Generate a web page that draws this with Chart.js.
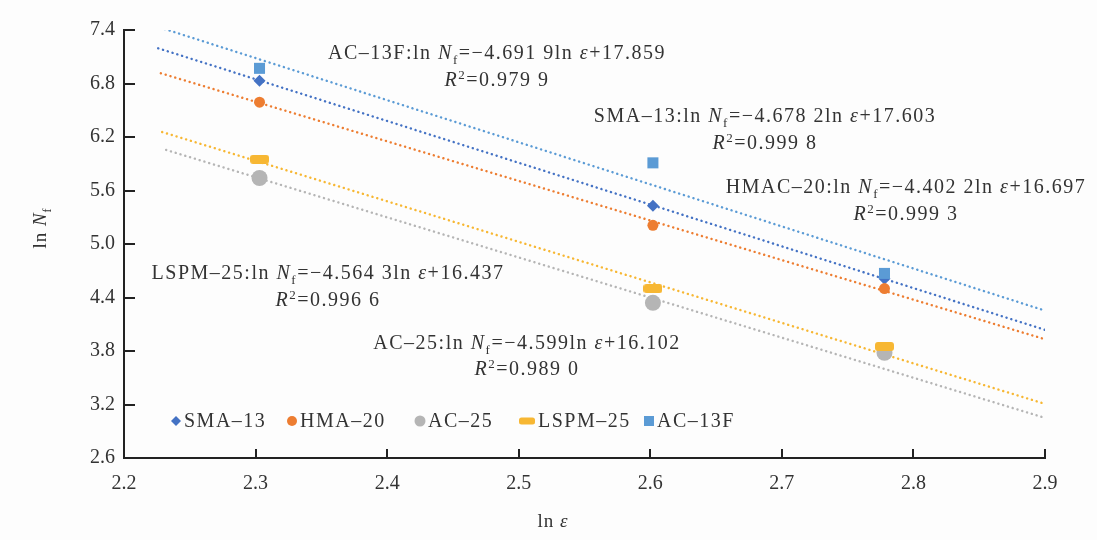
<!DOCTYPE html>
<html>
<head>
<meta charset="utf-8">
<script src="https://cdn.jsdelivr.net/npm/chart.js@4/dist/chart.umd.min.js"></script>
<style>
  html, body { margin: 0; padding: 0; background: #fdfdfd; }
  #wrap { width: 1097px; height: 540px; position: relative; }
</style>
</head>
<body>
<div id="wrap"><canvas id="fatigueChart" width="1097" height="540"></canvas></div>
<script>
// data
const xTickValues = [2.2, 2.3, 2.4, 2.5, 2.6, 2.7, 2.8, 2.9];
const yTickValues = [2.6, 3.2, 3.8, 4.4, 5.0, 5.6, 6.2, 6.8, 7.4];

const lnEps = [2.303, 2.602, 2.778];
const sma13 = [6.83, 5.43, 4.61];
const hma20 = [6.59, 5.21, 4.50];
const ac25 = [5.74, 4.34, 3.78];
const lspm25 = [5.95, 4.50, 3.85];
const ac13f = [6.97, 5.91, 4.67];

// trend line ends (x, y) as drawn
const sma13TrendX = [2.226, 2.9];
const sma13TrendY = [7.195, 4.037];
const hma20TrendX = [2.228, 2.9];
const hma20TrendY = [6.915, 3.932];
const ac25TrendX = [2.232, 2.9];
const ac25TrendY = [6.055, 3.050];
const lspm25TrendX = [2.229, 2.9];
const lspm25TrendY = [6.256, 3.207];
const ac13fTrendX = [2.231, 2.9];
const ac13fTrendY = [7.411, 4.253];

const seriesNames = ["SMA–13", "HMA–20", "AC–25", "LSPM–25", "AC–13F"];
const eqNames = ["AC–13F", "SMA–13", "HMAC–20", "LSPM–25", "AC–25"];
const eqSlopes = ["−4.691 9", "−4.678 2", "−4.402 2", "−4.564 3", "−4.599"];
const eqIntercepts = ["17.859", "17.603", "16.697", "16.437", "16.102"];
const eqR2 = ["0.979 9", "0.999 8", "0.999 3", "0.996 6", "0.989 0"];

const colors = {
    sma: "#4472C4",
    hma: "#ED7D31",
    ac25: "#B5B5B5",
    lspm: "#F7B733",
    ac13f: "#5B9BD5"
};

const SERIF = "'Times New Roman', 'Liberation Serif', Times, 'DejaVu Serif', serif";
const TEXT = "#333333";

function pts(xs, ys) {
    return xs.map((x, i) => ({ x: x, y: ys[i] }));
}

// rounded bar marker for LSPM-25
function pillMarker(w, h, color) {
    const c = document.createElement("canvas");
    c.width = w; c.height = h;
    const g = c.getContext("2d");
    g.fillStyle = color;
    g.beginPath();
    g.roundRect(0, 0, w, h, 3);
    g.fill();
    return c;
}
const pill = pillMarker(19, 9, colors.lspm);

function markerSet(label, data, color, style, radius) {
    return {
        label: label,
        data: pts(lnEps, data),
        pointStyle: style,
        pointRadius: radius,
        pointHoverRadius: radius,
        backgroundColor: color,
        borderColor: color,
        borderWidth: 0,
        showLine: false
    };
}

function trendSet(xs, ys, color) {
    return {
        label: "trend",
        data: pts(xs, ys),
        showLine: true,
        borderColor: color,
        borderWidth: 2.4,
        borderDash: [0.1, 4.9],
        borderCapStyle: "round",
        pointRadius: 0,
        fill: false
    };
}

// draws a run of text pieces, centred at cx
function drawRich(ctx, parts, cx, y, size) {
    size = size || 20;
    const big = size + "px " + SERIF;
    const small = Math.round(size * 0.65) + "px " + SERIF;
    let total = 0;
    parts.forEach(p => {
        ctx.font = (p.it ? "italic " : "") + (p.sub || p.sup ? small : big);
        p.w = ctx.measureText(p.t).width;
        total += p.w;
    });
    let x = cx - total / 2;
    parts.forEach(p => {
        ctx.font = (p.it ? "italic " : "") + (p.sub || p.sup ? small : big);
        let dy = 0;
        if (p.sub) dy = 5;
        if (p.sup) dy = -7;
        ctx.fillText(p.t, x, y + dy);
        x += p.w;
    });
}

function eqParts(i) {
    return [
        { t: eqNames[i] + ":ln " },
        { t: "N", it: true },
        { t: "f", sub: true },
        { t: "=" + eqSlopes[i] + "ln " },
        { t: "ε", it: true },
        { t: "+" + eqIntercepts[i] }
    ];
}
function r2Parts(i) {
    return [
        { t: "R", it: true },
        { t: "2", sup: true },
        { t: "=" + eqR2[i] }
    ];
}

const eqPos = [[497, 59, 86], [765, 122, 149], [906, 193, 220], [328, 279, 306], [527, 349, 375]];

const legendMarks = [
    { x: 176, kind: "diamond", color: colors.sma },
    { x: 292, kind: "circle", color: colors.hma, r: 5 },
    { x: 420, kind: "circle", color: colors.ac25, r: 5.5 },
    { x: 527, kind: "pill", color: colors.lspm },
    { x: 649, kind: "square", color: colors.ac13f }
];

// short tick marks pointing into the plot
const innerTicks = {
    id: "innerTicks",
    afterDatasetsDraw(chart) {
        const c = chart.ctx;
        const xs = chart.scales.x, ys = chart.scales.y;
        const area = chart.chartArea;
        c.save();
        c.fillStyle = "#222222";
        xTickValues.forEach(v => {
            const px = Math.round(xs.getPixelForValue(v));
            c.fillRect(px - 1, area.bottom - 9, 2, 9);
        });
        yTickValues.forEach(v => {
            const py = Math.round(ys.getPixelForValue(v));
            c.fillRect(area.left, py - 1, 11, 2);
        });
        c.restore();
    }
};

const overlay = {
    id: "overlay",
    afterDraw(chart) {
        const c = chart.ctx;
        c.save();

        // equations
        c.fillStyle = TEXT;
        c.textBaseline = "alphabetic";
        c.letterSpacing = "1.5px";
        eqPos.forEach((p, i) => {
            drawRich(c, eqParts(i), p[0], p[1]);
            drawRich(c, r2Parts(i), p[0], p[2]);
        });

        // legend
        const ly = 421;
        legendMarks.forEach((m, i) => {
            c.fillStyle = m.color;
            c.beginPath();
            if (m.kind === "diamond") {
                c.moveTo(m.x, ly - 5); c.lineTo(m.x + 5, ly);
                c.lineTo(m.x, ly + 5); c.lineTo(m.x - 5, ly);
                c.closePath();
            } else if (m.kind === "circle") {
                c.arc(m.x, ly, m.r, 0, Math.PI * 2);
            } else if (m.kind === "pill") {
                c.roundRect(m.x - 8, ly - 3.5, 16, 7, 2.5);
            } else {
                c.rect(m.x - 5, ly - 5, 10, 10);
            }
            c.fill();
            c.fillStyle = TEXT;
            c.font = "20px " + SERIF;
            c.textBaseline = "middle";
            c.fillText(seriesNames[i], m.x + (m.kind === "pill" ? 11 : 8), ly + 1);
        });

        // axis titles
        c.textBaseline = "alphabetic";
        c.letterSpacing = "1px";
        drawRich(c, [{ t: "ln " }, { t: "ε", it: true }], 553, 527, 19);
        c.translate(46, 228);
        c.rotate(-Math.PI / 2);
        drawRich(c, [{ t: "ln " }, { t: "N", it: true }, { t: "f", sub: true }], 0, 0, 19);
        c.restore();
    }
};

const chartCtx = document.getElementById("fatigueChart").getContext("2d");
new Chart(chartCtx, {
    type: "scatter",
    data: {
        datasets: [
            markerSet("LSPM-25", lspm25, colors.lspm, pill, 9),
            markerSet("AC-13F", ac13f, colors.ac13f, "rect", 7.8),
            markerSet("HMA-20", hma20, colors.hma, "circle", 5.5),
            markerSet("SMA-13", sma13, colors.sma, "rectRot", 6),
            markerSet("AC-25", ac25, colors.ac25, "circle", 8),
            trendSet(ac13fTrendX, ac13fTrendY, colors.ac13f),
            trendSet(sma13TrendX, sma13TrendY, colors.sma),
            trendSet(hma20TrendX, hma20TrendY, colors.hma),
            trendSet(lspm25TrendX, lspm25TrendY, colors.lspm),
            trendSet(ac25TrendX, ac25TrendY, colors.ac25)
        ]
    },
    options: {
        responsive: false,
        animation: false,
        layout: { padding: { left: 0, right: 52, top: 30, bottom: 0 } },
        plugins: {
            legend: { display: false },
            tooltip: { enabled: false }
        },
        scales: {
            x: {
                type: "linear",
                min: 2.2,
                max: 2.9,
                afterBuildTicks: s => { s.ticks = xTickValues.map(v => ({ value: v })); },
                afterFit: s => { s.height = 82; },
                grid: { display: false, drawTicks: false },
                border: { display: true, color: "#222222", width: 2 },
                ticks: {
                    padding: 14,
                    color: TEXT,
                    font: { family: SERIF, size: 20 },
                    callback: v => v.toFixed(1)
                }
            },
            y: {
                type: "linear",
                min: 2.6,
                max: 7.4,
                afterBuildTicks: s => { s.ticks = yTickValues.map(v => ({ value: v })); },
                afterFit: s => { s.width = 124; },
                grid: { display: false, drawTicks: false },
                border: { display: true, color: "#222222", width: 2 },
                ticks: {
                    padding: 9,
                    color: TEXT,
                    font: { family: SERIF, size: 20 },
                    callback: v => v.toFixed(1)
                }
            }
        }
    },
    plugins: [innerTicks, overlay]
});
</script>
</body>
</html>
